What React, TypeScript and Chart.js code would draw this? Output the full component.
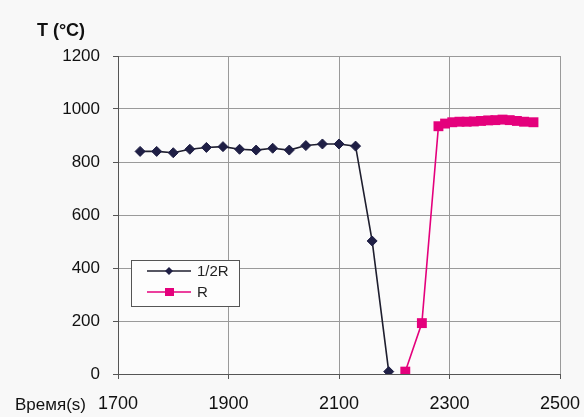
import React, { useEffect, useRef } from "react";
import { Chart, registerables } from "chart.js";

Chart.register(...registerables);

const halfRTime = [1740, 1770, 1800, 1830, 1860, 1890, 1920, 1950, 1980, 2010, 2040, 2070, 2100, 2130, 2160, 2190];
const halfRTemp = [840, 840, 835, 848, 855, 858, 848, 845, 852, 845, 862, 868, 868, 860, 502, 9];
const rTime = [2220, 2250, 2280, 2292, 2305, 2318, 2331, 2344, 2357, 2370, 2383, 2396, 2409, 2422, 2435, 2452];
const rTemp = [9, 192, 935, 945, 950, 952, 952, 953, 955, 957, 958, 960, 958, 955, 952, 950];
const xTicks = [1700, 1900, 2100, 2300, 2500];
const yTicks = [0, 200, 400, 600, 800, 1000, 1200];
const seriesNames = ["1/2R", "R"];
const yTitle = "T (°C)";
const xTitle = "Время(s)";

const FONT = "'Liberation Sans', Arial, sans-serif";
const C1_LINE = "#1e1e2e";
const C1_PT = "#1f1f45";
const C2 = "#e4007c";

const decorPlugin = {
  id: "decor",
  beforeDraw(chart: any) {
    const ctx = chart.ctx;
    ctx.save();
    ctx.fillStyle = "#f8f8f8";
    ctx.fillRect(0, 0, chart.width, chart.height);
    const a = chart.chartArea;
    ctx.fillStyle = "#fbfbfb";
    ctx.fillRect(a.left, a.top, a.right - a.left, a.bottom - a.top);
    ctx.restore();
  },
  afterDraw(chart: any) {
    const ctx = chart.ctx;
    ctx.save();
    ctx.fillStyle = "#111";
    ctx.font = `bold 18px ${FONT}`;
    ctx.textAlign = "center";
    ctx.textBaseline = "middle";
    ctx.fillText(yTitle, 61, 31);
    ctx.font = `17px ${FONT}`;
    ctx.textAlign = "left";
    ctx.fillText(xTitle, 15, 405);

    const bx = 131, by = 260, bw = 108, bh = 46;
    ctx.fillStyle = "#fdfdfd";
    ctx.fillRect(bx, by, bw, bh);
    ctx.strokeStyle = "#555";
    ctx.lineWidth = 1;
    ctx.strokeRect(bx + 0.5, by + 0.5, bw, bh);
    const rows = [271, 292];
    rows.forEach((yy, i) => {
      ctx.strokeStyle = i === 0 ? C1_LINE : C2;
      ctx.lineWidth = 1.5;
      ctx.beginPath();
      ctx.moveTo(147, yy);
      ctx.lineTo(191, yy);
      ctx.stroke();
      if (i === 0) {
        ctx.fillStyle = C1_PT;
        ctx.beginPath();
        ctx.moveTo(169, yy - 4);
        ctx.lineTo(173, yy);
        ctx.lineTo(169, yy + 4);
        ctx.lineTo(165, yy);
        ctx.closePath();
        ctx.fill();
      } else {
        ctx.fillStyle = C2;
        ctx.fillRect(165, yy - 4, 9, 8);
      }
      ctx.fillStyle = "#222";
      ctx.font = `15px ${FONT}`;
      ctx.textAlign = "left";
      ctx.textBaseline = "middle";
      ctx.fillText(seriesNames[i], 197, yy + 1);
    });
    ctx.restore();
  },
};

export default function App() {
  const ref = useRef<HTMLCanvasElement | null>(null);
  useEffect(() => {
    if (!ref.current) return;
    const chart = new Chart(ref.current, {
      type: "line",
      data: {
        datasets: [
          {
            label: seriesNames[0],
            data: halfRTime.map((t, i) => ({ x: t, y: halfRTemp[i] })),
            borderColor: C1_LINE,
            backgroundColor: C1_PT,
            pointBackgroundColor: C1_PT,
            pointBorderColor: C1_PT,
            pointStyle: "rectRot",
            pointRadius: 5,
            pointBorderWidth: 1,
            borderWidth: 1.6,
            tension: 0,
          },
          {
            label: seriesNames[1],
            data: rTime.map((t, i) => ({ x: t, y: rTemp[i] })),
            borderColor: C2,
            backgroundColor: C2,
            pointBackgroundColor: C2,
            pointBorderColor: C2,
            pointStyle: "rect",
            pointRadius: 7,
            pointBorderWidth: 0,
            borderWidth: 1.6,
            tension: 0,
          },
        ],
      },
      options: {
        animation: false,
        responsive: false,
        maintainAspectRatio: false,
        layout: { padding: { left: 0, right: 24, top: 56, bottom: 0 } },
        plugins: { legend: { display: false }, tooltip: { enabled: false } },
        scales: {
          x: {
            type: "linear",
            min: 1700,
            max: 2500,
            afterBuildTicks: (s: any) => {
              s.ticks = xTicks.map((v) => ({ value: v }));
            },
            afterFit: (s: any) => {
              s.height = 43;
              s.paddingLeft = 0;
              s.paddingRight = 0;
            },
            ticks: {
              color: "#111",
              font: { family: FONT, size: 18 },
              padding: 14,
              maxRotation: 0,
              autoSkip: false,
              callback: (v: any) => String(v),
            },
            grid: { color: "#9a9a9a", lineWidth: 1, tickLength: 5, tickColor: "#555" },
            border: { color: "#555", width: 1 },
          },
          y: {
            type: "linear",
            min: 0,
            max: 1200,
            afterBuildTicks: (s: any) => {
              s.ticks = yTicks.map((v) => ({ value: v }));
            },
            afterFit: (s: any) => {
              s.width = 118;
              s.paddingTop = 0;
              s.paddingBottom = 0;
            },
            ticks: {
              color: "#111",
              font: { family: FONT, size: 17 },
              padding: 13,
              callback: (v: any) => String(v),
            },
            grid: { color: "#9a9a9a", lineWidth: 1, tickLength: 5, tickColor: "#555" },
            border: { color: "#555", width: 1 },
          },
        },
      },
      plugins: [decorPlugin],
    } as any);
    return () => chart.destroy();
  }, []);
  return (
    <div style={{ position: "absolute", left: 0, top: 0, width: 584, height: 417 }}>
      <canvas ref={ref} width={584} height={417} style={{ width: 584, height: 417 }} />
    </div>
  );
}
